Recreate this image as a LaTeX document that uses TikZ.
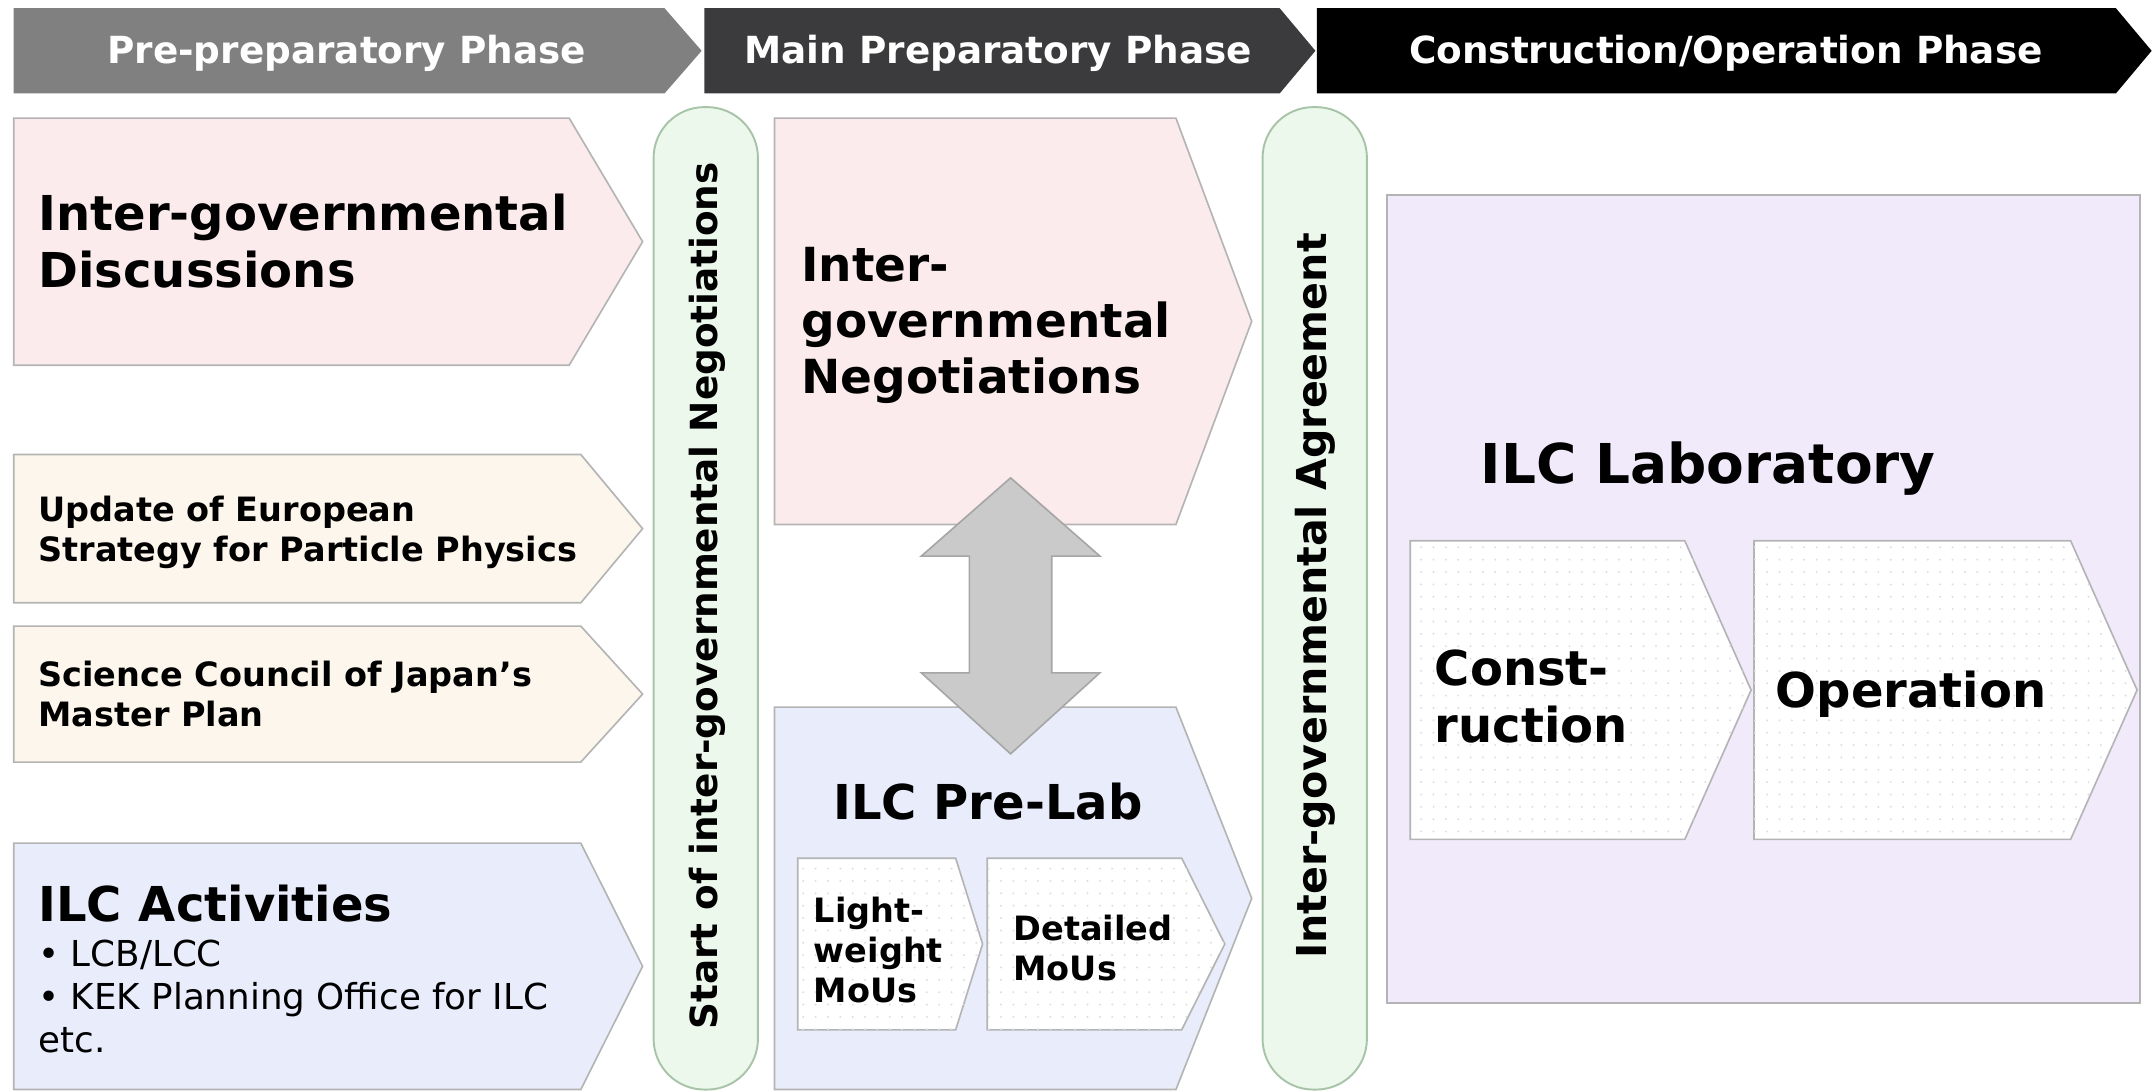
\documentclass[tikz,border=0pt]{standalone}
\usepackage{fontspec}
\setmainfont{DejaVu Sans}
\usetikzlibrary{patterns.meta}
\definecolor{pinkf}{HTML}{FBEBEC}
\definecolor{creamf}{HTML}{FDF6EC}
\definecolor{bluef}{HTML}{E9EDFB}
\definecolor{lavf}{HTML}{F1EAFB}
\definecolor{greenf}{HTML}{EBF8EB}
\definecolor{greenb}{HTML}{A8C4A8}
\definecolor{boxb}{HTML}{B4B4B4}
\definecolor{hdrA}{HTML}{808080}
\definecolor{hdrB}{HTML}{3B3B3D}
\definecolor{arrf}{HTML}{CACACA}
\definecolor{arrb}{HTML}{A6A6A6}
% #1 style, #2 x-left, #3 y-top, #4 x-body-end, #5 x-tip, #6 y-bottom
\newcommand{\chevbox}[6]{\path[#1] (#2,#3) -- (#4,#3) -- (#5,{(#3+#6)/2}) -- (#4,#6) -- (#2,#6) -- cycle;}
\newcommand{\mystack}[2]{\vtop{\baselineskip=#1\lineskiplimit=-100pt\lineskip=0pt\relax #2}}
\newcommand{\fbig}{\bfseries\fontsize{17.5}{21}\selectfont}
\newcommand{\fbigE}{\bfseries\fontsize{17.1}{21}\selectfont}
\newcommand{\fmid}{\bfseries\fontsize{12.2}{14.5}\selectfont}
\begin{document}
\begin{tikzpicture}[x=0.5pt,y=-0.5pt,
  txt/.style={inner sep=0pt, anchor=base west},
  hdrtxt/.style={inner sep=0pt, anchor=base, text=white, font=\bfseries\fontsize{13.6}{16}\selectfont},
  boxline/.style={draw=boxb, line width=0.6pt},
  subbox/.style={boxline, fill=white, postaction={pattern={Dots[distance=4.5pt,radius=0.4pt]}, pattern color=black!13}},
  pill/.style={draw=greenb, fill=greenf, line width=0.7pt, rounded corners=18.5pt},
  dblarrow/.style={draw=arrb, fill=arrf, line width=0.6pt}]
\useasboundingbox (0,0) rectangle (1568,794.6);

% ---------- header phases ----------
\chevbox{fill=hdrA}{10}{6}{484}{511}{68}
\chevbox{fill=hdrB}{513}{6}{932}{958}{68}
\chevbox{fill=black}{959}{6}{1541}{1567}{68}
\node[hdrtxt] (h1) at (252.5,46.5) {Pre-preparatory Phase};
\node[hdrtxt] (h2) at (727,46.5) {Main Preparatory Phase};
\node[hdrtxt] (h3) at (1257,46.5) {Construction/Operation Phase};

% ---------- left column ----------
\chevbox{boxline, fill=pinkf}{10}{86}{414.5}{468}{266}
\chevbox{boxline, fill=creamf}{10}{331}{423}{468}{439}
\chevbox{boxline, fill=creamf}{10}{456}{423}{468}{555}
\chevbox{boxline, fill=bluef}{10}{614}{423}{468}{793.5}

\node[txt, font=\fbig] (tA) at (27.6,168) {\mystack{20.7pt}{\hbox{Inter-governmental}\hbox{Discussions}}};
\node[txt, font=\fmid] (tB) at (27.6,380) {\mystack{14.6pt}{\hbox{Update of European}\hbox{Strategy for Particle Physics}}};
\node[txt, font=\fmid] (tC) at (27.6,500) {\mystack{14.6pt}{\hbox{Science Council of Japan’s}\hbox{Master Plan}}};
\node[txt, font=\fbig] (tD) at (27.6,671) {ILC Activities};
\node[txt, font=\fontsize{13}{15.6}\selectfont] (tDl) at (27.6,704) {\mystack{15.6pt}{\hbox{• LCB/LCC}\hbox{• KEK Planning Office for ILC}\hbox{etc.}}};

% ---------- milestone pills ----------
\path[pill] (476,78) rectangle (552,793.5);
\path[pill] (919.5,78) rectangle (995.5,793.5);
\node[inner sep=0pt, rotate=90, font=\bfseries\fontsize{13.6}{16}\selectfont] (p1) at (515,434) {Start of inter-governmental Negotiations};
\node[inner sep=0pt, rotate=90, font=\bfseries\fontsize{15}{18}\selectfont] (p2) at (958,434) {Inter-governmental Agreement};

% ---------- main preparatory ----------
\chevbox{boxline, fill=pinkf}{564}{86}{856.4}{911.6}{382}
\chevbox{boxline, fill=bluef}{564}{515}{856.4}{911.6}{793.5}
\chevbox{subbox}{581}{625}{696}{715.6}{750}
\chevbox{subbox}{719}{625}{860.6}{892}{750}

\path[dblarrow] (736,348) -- (801,405) -- (766,405) -- (766,490) -- (801,490)
  -- (736,549) -- (671,490) -- (706,490) -- (706,405) -- (671,405) -- cycle;

\node[txt, font=\fbigE] (tE) at (583.3,205) {\mystack{20.4pt}{\hbox{Inter-}\hbox{governmental}\hbox{Negotiations}}};
\node[inner sep=0pt, anchor=base, font=\fbig] (tF) at (719.5,597) {ILC Pre-Lab};
\node[txt, font=\fmid] (tG1) at (592.4,672) {\mystack{14.6pt}{\hbox{Light-}\hbox{weight}\hbox{MoUs}}};
\node[txt, font=\fmid] (tG2) at (737.7,685) {\mystack{14.6pt}{\hbox{Detailed}\hbox{MoUs}}};

% ---------- construction / operation ----------
\path[boxline, fill=lavf] (1010,142) rectangle (1558.5,730.6);
\chevbox{subbox}{1027}{393.8}{1227}{1275.3}{611.3}
\chevbox{subbox}{1277.4}{393.8}{1508}{1556.4}{611.3}
\node[txt, font=\bfseries\fontsize{20}{24}\selectfont] (tH) at (1078,352) {ILC Laboratory};
\node[txt, font=\fbig] (tI1) at (1044.6,499.5) {\mystack{20.7pt}{\hbox{Const-}\hbox{ruction}}};
\node[txt, font=\fbig] (tI2) at (1293,515) {Operation};
\end{tikzpicture}
\end{document}
